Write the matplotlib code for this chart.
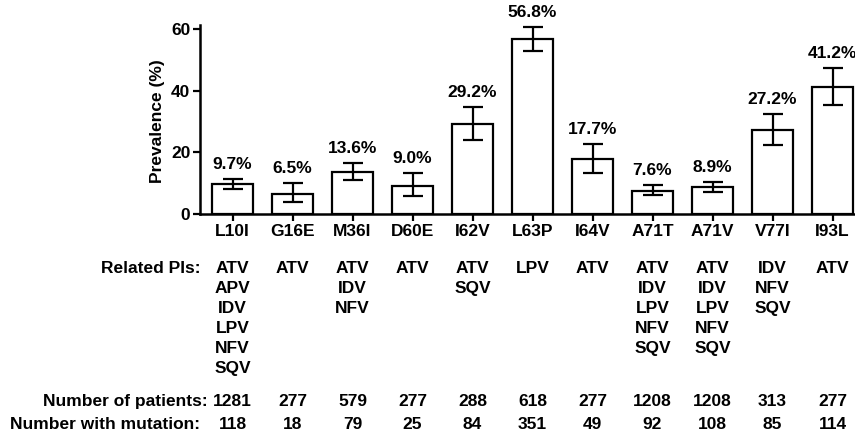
import matplotlib
matplotlib.use('Agg')
import numpy as np
from matplotlib import pyplot as plt
from matplotlib.transforms import blended_transform_factory

mutations = ['L10I', 'G16E', 'M36I', 'D60E', 'I62V', 'L63P', 'I64V', 'A71T', 'A71V', 'V77I', 'I93L']
prevalence = [9.7, 6.5, 13.6, 9.0, 29.2, 56.8, 17.7, 7.6, 8.9, 27.2, 41.2]
ci_low = [8.1, 4.0, 10.9, 5.9, 24.0, 52.8, 13.4, 6.2, 7.2, 22.3, 35.4]
ci_high = [11.4, 10.2, 16.7, 13.2, 34.7, 60.8, 22.7, 9.3, 10.5, 32.5, 47.3]
related_pis = [
    ['ATV', 'APV', 'IDV', 'LPV', 'NFV', 'SQV'],
    ['ATV'],
    ['ATV', 'IDV', 'NFV'],
    ['ATV'],
    ['ATV', 'SQV'],
    ['LPV'],
    ['ATV'],
    ['ATV', 'IDV', 'LPV', 'NFV', 'SQV'],
    ['ATV', 'IDV', 'LPV', 'NFV', 'SQV'],
    ['IDV', 'NFV', 'SQV'],
    ['ATV'],
]
n_patients = [1281, 277, 579, 277, 288, 618, 277, 1208, 1208, 313, 277]
n_mutation = [118, 18, 79, 25, 84, 351, 49, 92, 108, 85, 114]

plt.rcParams['font.family'] = ['Liberation Sans', 'DejaVu Sans']
plt.rcParams['font.weight'] = 'bold'
fs = 12.5

W, H = 855, 436
fig = plt.figure(figsize=(W / 100, H / 100), dpi=100)
ax = fig.add_axes([200 / W, (H - 214) / H, 655 / W, 189 / H])

x = np.arange(len(mutations))
prev = np.array(prevalence)
yerr = [prev - np.array(ci_low), np.array(ci_high) - prev]
ax.bar(x, prev, width=0.68, facecolor='white', edgecolor='black', linewidth=1.6, zorder=2)
ax.errorbar(x, prev, yerr=yerr, fmt='none', ecolor='black', elinewidth=1.6,
            capsize=7.5, capthick=1.6, zorder=3)

for xi, p, hi in zip(x, prevalence, ci_high):
    ax.annotate(f'{p:.1f}%', (xi, hi), xytext=(0, 5), textcoords='offset points',
                ha='center', va='bottom', fontsize=fs, fontweight='bold', clip_on=False)

ax.set_xlim(-32.5 / 60, 622.5 / 60)
ax.set_ylim(0, 61.3)
ax.set_yticks([0, 20, 40, 60])
ax.set_xticks(x)
ax.set_xticklabels(mutations)
ax.tick_params(axis='both', labelsize=fs, width=1.6, length=5, pad=2)
for lab in ax.get_xticklabels() + ax.get_yticklabels():
    lab.set_fontweight('bold')
for side in ['top', 'right']:
    ax.spines[side].set_visible(False)
for side in ['left', 'bottom']:
    ax.spines[side].set_linewidth(1.8)

fig.text(157 / W, 1 - 121 / H, 'Prevalence (%)', rotation=90, ha='center', va='center',
         fontsize=fs, fontweight='bold')

tr = blended_transform_factory(ax.transData, fig.transFigure)


def fy(py):
    return 1 - py / H


fig.text(200 / W, fy(273), 'Related PIs:', ha='right', va='baseline', fontsize=fs, fontweight='bold')
fig.text(208 / W, fy(406), 'Number of patients:', ha='right', va='baseline', fontsize=fs, fontweight='bold')
fig.text(200 / W, fy(429), 'Number with mutation:', ha='right', va='baseline', fontsize=fs, fontweight='bold')

for xi, pis, npat, nmut in zip(x, related_pis, n_patients, n_mutation):
    for j, drug in enumerate(pis):
        fig.text(xi, fy(273 + 20 * j), drug, transform=tr, ha='center', va='baseline',
                 fontsize=fs, fontweight='bold')
    fig.text(xi, fy(406), str(npat), transform=tr, ha='center', va='baseline',
             fontsize=fs, fontweight='bold')
    fig.text(xi, fy(429), str(nmut), transform=tr, ha='center', va='baseline',
             fontsize=fs, fontweight='bold')

fig.savefig('out.png', dpi=100)
